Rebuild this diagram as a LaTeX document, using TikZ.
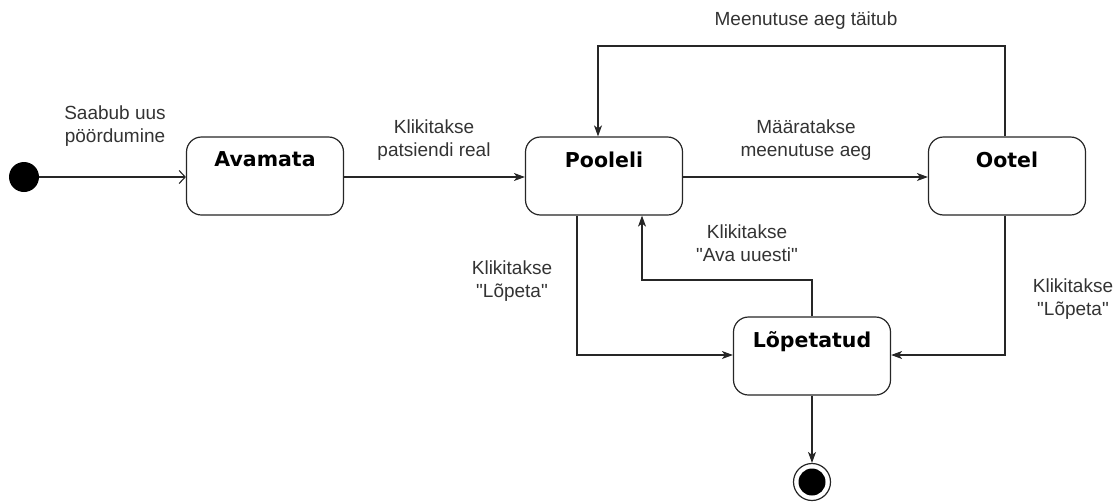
\documentclass[tikz,border=0pt]{standalone}
\usepackage{fontspec}
\setmainfont{Liberation Sans}[Ligatures=TeXOff]
\newfontfamily\titlefont{DejaVu Sans}
\usetikzlibrary{arrows.meta}
\tikzset{
  statebox/.style={draw=black!85, line width=1.2pt, rounded corners=15pt, minimum width=157pt, minimum height=78pt, fill=white},
  stitle/.style={font=\titlefont\bfseries\fontsize{20.5}{22}\selectfont, anchor=north, inner sep=0pt},
  lbl/.style={font=\fontsize{19}{22.5}\selectfont, align=center, text=black!80},
  flow/.style={draw=black!85, line width=1.1pt, -{Stealth[length=11pt,width=8pt,inset=3pt]}},
  openflow/.style={draw=black!85, line width=1.1pt, -{Straight Barb[length=6pt,width=13pt,line width=1.1pt]}},
}
\begin{document}
\begin{tikzpicture}[x=1pt,y=-1pt]
\useasboundingbox (0,0) rectangle (1116,501);

% states
\node[statebox] (av) at (265,176) {};
\node[statebox] (po) at (604,176) {};
\node[statebox] (oo) at (1007,176) {};
\node[statebox] (lo) at (812,356) {};
\node[stitle] (tav) at ([yshift=-15pt]av.north) {Avamata};
\node[stitle] (tpo) at ([yshift=-15pt]po.north) {Pooleli};
\node[stitle] (too) at ([yshift=-15pt]oo.north) {Ootel};
\node[stitle] (tlo) at ([yshift=-15pt]lo.north) {Lõpetatud};

% initial and final pseudo-states
\node[circle, fill=black, minimum size=30pt, inner sep=0pt] (init) at (24,177) {};
\node[circle, draw=black!85, line width=1.2pt, minimum size=37pt, inner sep=0pt] (fin) at (812,482) {};
\node[circle, fill=black, minimum size=27pt, inner sep=0pt] (fininner) at (812,482) {};

% turning points of the routed transitions
\coordinate (loopR) at (1005,46);
\coordinate (loopL) at (598,46);
\coordinate (endL) at (577,355);
\coordinate (endR) at (1005,355);
\coordinate (reA) at (812,280);
\coordinate (reB) at (642,280);

% transitions
\draw[openflow] (init.east) -- (av.west |- init.east);
\draw[flow] (av.east |- 0,177) -- (po.west |- 0,177);
\draw[flow] (po.east |- 0,177) -- (oo.west |- 0,177);
\draw[flow] (oo.north -| loopR) -- (loopR) -- (loopL) -- (po.north -| loopL);
\draw[flow] (po.south -| endL) -- (endL) -- (lo.west |- endL);
\draw[flow] (oo.south -| endR) -- (endR) -- (lo.east |- endR);
\draw[flow] (lo.north -| reA) -- (reA) -- (reB) -- (po.south -| reB);
\draw[flow] (lo.south) -- (fin.north);

% transition labels
\node[lbl] (l1) at (115,126) {Saabub uus\\pöördumine};
\node[lbl] (l2) at (434,140) {Klikitakse\\patsiendi real};
\node[lbl] (l3) at (806,140) {Määratakse\\meenutuse aeg};
\node[lbl] (l4) at (806,21) {Meenutuse aeg täitub};
\node[lbl] (l5) at (512,281) {Klikitakse\\"Lõpeta"};
\node[lbl] (l6) at (747,243) {Klikitakse\\"Ava uuesti"};
\node[lbl] (l7) at (1073,299) {Klikitakse\\"Lõpeta"};
\end{tikzpicture}
\end{document}
